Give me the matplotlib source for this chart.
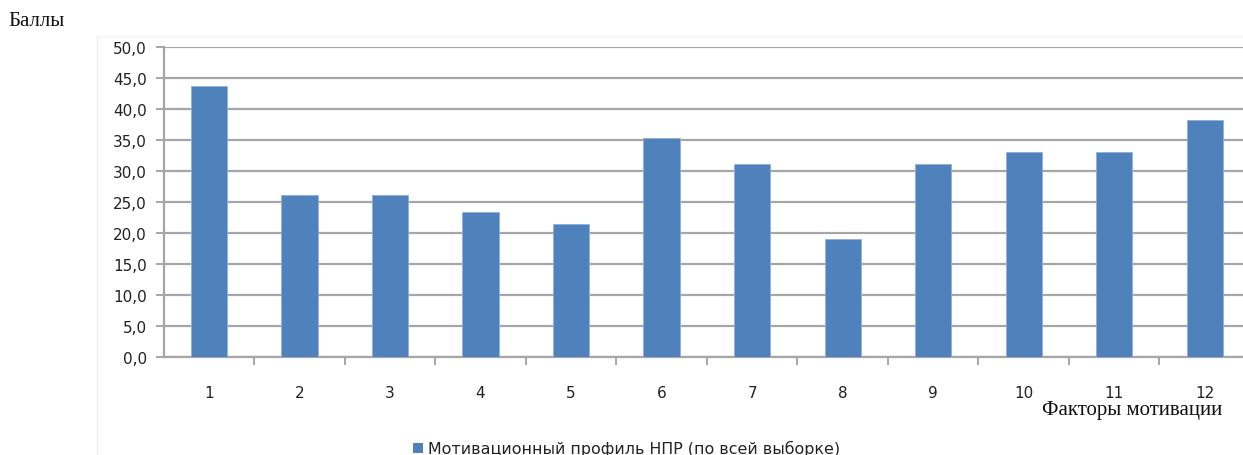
import matplotlib
matplotlib.use("Agg")
import matplotlib.pyplot as plt
from matplotlib.patches import Rectangle
from matplotlib.lines import Line2D

# Data
factors = ["1", "2", "3", "4", "5", "6", "7", "8", "9", "10", "11", "12"]
scores = [43.7, 26.2, 26.2, 23.4, 21.4, 35.3, 31.1, 19.0, 31.1, 33.1, 33.1, 38.3]
y_ticks = [0, 5, 10, 15, 20, 25, 30, 35, 40, 45, 50]
series_name = "Мотивационный профиль НПР (по всей выборке)"

W, H = 1243, 456
fig = plt.figure(figsize=(W / 100, H / 100), dpi=100)
fig.patch.set_facecolor("white")

# plot area in pixel coordinates
left_px, right_px = 163.7, 1250.0
top_px, bottom_px = 48.0, 358.0
ax = fig.add_axes([left_px / W, 1 - bottom_px / H,
                   (right_px - left_px) / W, (bottom_px - top_px) / H])

bar_color = "#4F81BD"
x = list(range(len(factors)))
ax.bar(x, scores, width=0.4, color=bar_color, edgecolor="#8FB0DA",
       linewidth=0.6, zorder=3)

ax.set_xlim(-0.5, len(factors) - 0.5)
ax.set_ylim(0, 50)
ax.set_yticks(y_ticks)
ax.set_yticklabels([f"{v:.1f}".replace(".", ",") for v in y_ticks])
ax.set_xticks(x)
ax.set_xticklabels(factors)
ax.set_xticks([i + 0.5 for i in x[:-1]], minor=True)

grid_c = "#A6A6A6"
ax.yaxis.grid(True, color=grid_c, linewidth=1.6, zorder=0)
ax.set_axisbelow(True)
for s in ["top", "right"]:
    ax.spines[s].set_visible(False)
for s in ["left", "bottom"]:
    ax.spines[s].set_color(grid_c)
    ax.spines[s].set_linewidth(1.6)

ax.tick_params(axis="y", which="major", length=6, width=1.4, color=grid_c,
               labelsize=11, pad=6, labelcolor="#222222")
ax.tick_params(axis="x", which="major", length=0, labelsize=11, pad=20,
               labelcolor="#222222")
ax.tick_params(axis="x", which="minor", length=6, width=1.4, color=grid_c,
               direction="out")

# faint chart-area border
fig.add_artist(Line2D([97 / W, 97 / W], [0, 1 - 37 / H], color="#EDEDED",
                      linewidth=1.0, transform=fig.transFigure))
fig.add_artist(Line2D([97 / W, 1], [1 - 37 / H, 1 - 37 / H], color="#F5F5F5",
                      linewidth=1.0, transform=fig.transFigure))

# axis captions
fig.text(8 / W, 1 - 22 / H, "Баллы", family="Liberation Serif", fontsize=15,
         ha="left", va="center", color="#111111")
fig.text(1222 / W, 1 - 411 / H, "Факторы мотивации", family="Liberation Serif",
         fontsize=15, ha="right", va="center", color="#111111")

# legend
fig.add_artist(Rectangle((413 / W, 1 - 454 / H), 10 / W, 10 / H,
                         facecolor=bar_color, edgecolor="none",
                         transform=fig.transFigure))
fig.text(428 / W, 1 - 449 / H, series_name, fontsize=11.4, ha="left",
         va="center", color="#222222")

fig.savefig("out.png", dpi=100, facecolor="white")
